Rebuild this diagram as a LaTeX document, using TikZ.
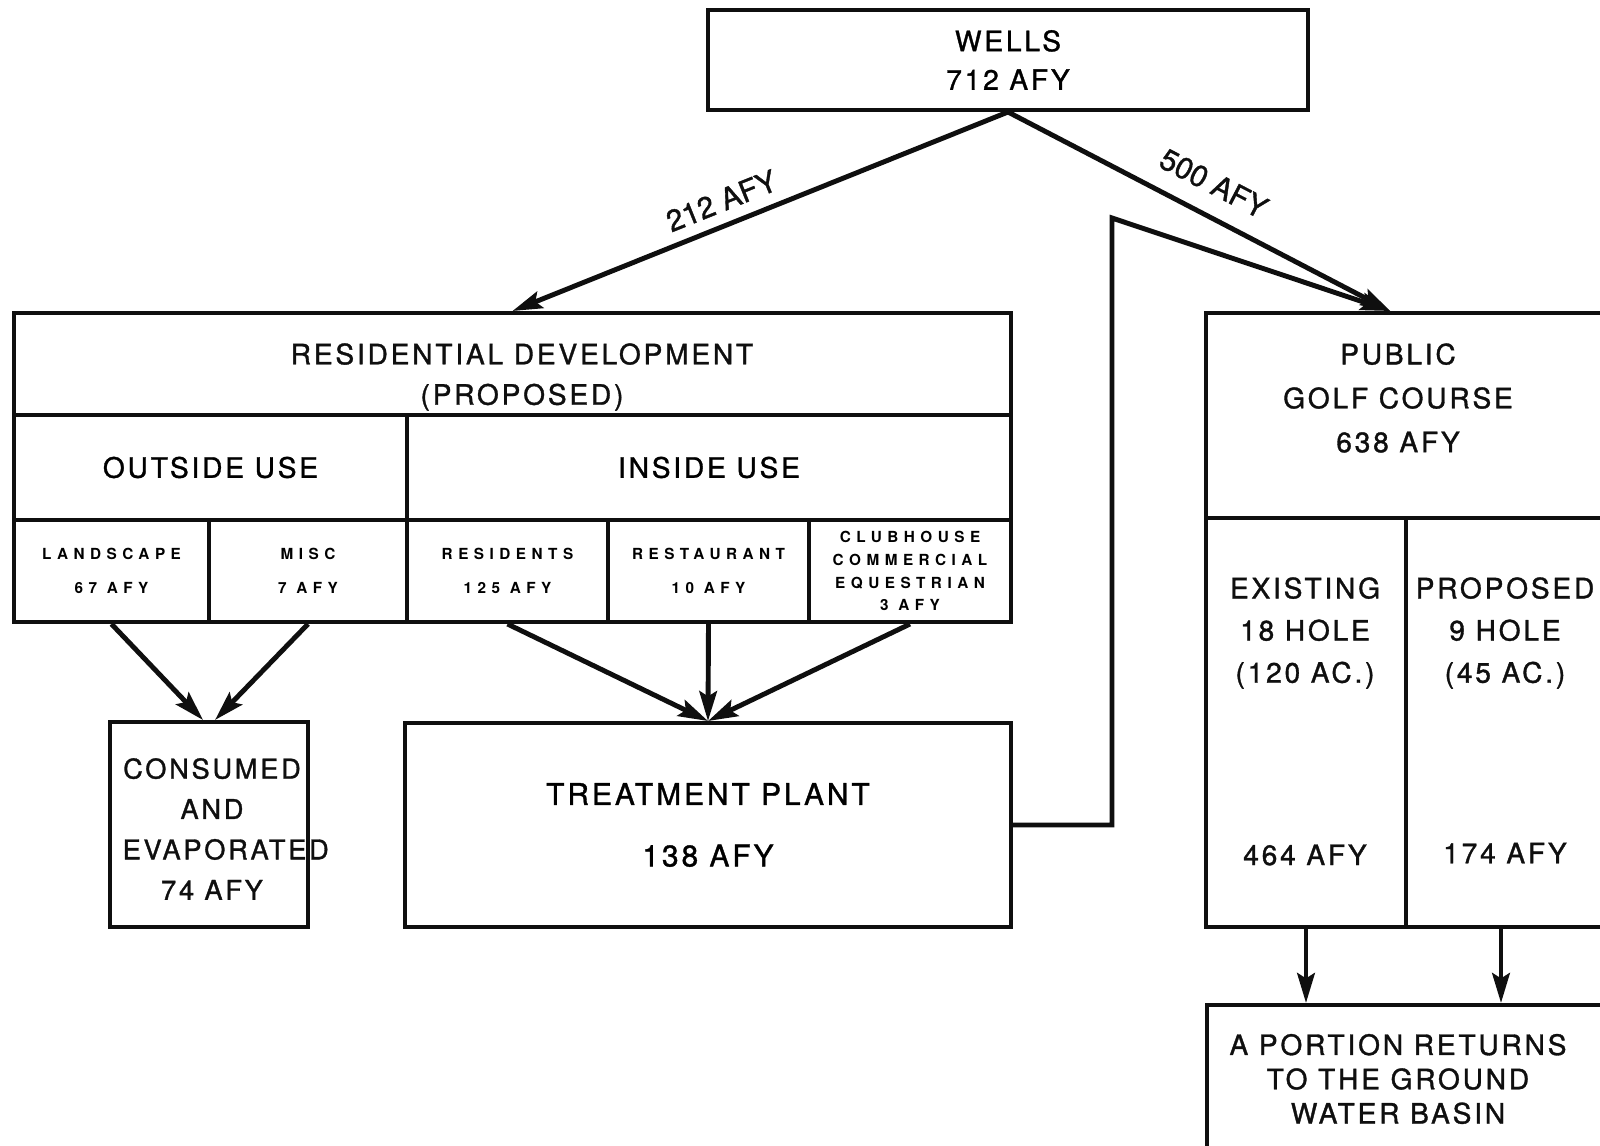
\documentclass[tikz,border=0pt]{standalone}
\usepackage{fontspec}
\setmainfont{TeX Gyre Heros}[LetterSpace=10,FakeBold=1.2]
\newfontfamily\widelettering{TeX Gyre Heros}[LetterSpace=36]
\newfontfamily\flowlettering{TeX Gyre Heros}[FakeBold=1.2]
\usepackage{tikz}
\usetikzlibrary{arrows.meta,calc}
\definecolor{inkblack}{RGB}{15,15,15}

\tikzset{
  box/.style={draw=inkblack, line width=2.3pt, inner sep=0pt, align=center,
    font=\fontsize{16}{23}\selectfont},
  cell/.style={box, minimum height=2.04cm,
    font=\widelettering\bfseries\fontsize{8.7}{19}\selectfont},
  lbl/.style={text=inkblack, align=center, font=\fontsize{16}{24}\selectfont},
  flowlbl/.style={text=inkblack, font=\flowlettering\fontsize{17}{20}\selectfont},
  flow/.style={draw=inkblack, line width=2.8pt,
    -{Stealth[length=17pt,width=10pt,inset=3pt]}}
}

\begin{document}
\begin{tikzpicture}[x=0.02cm, y=-0.02cm]
    \useasboundingbox (0,0) rectangle (1600,1146);
    \clip (0,0) rectangle (1600,1146);
    % source
    \node[box, minimum width=12cm, minimum height=2cm, font=\fontsize{16}{22}\selectfont] (wells) at (1008,60) {WELLS\\712 AFY};
    % residential development
    \node[box, minimum width=19.94cm, minimum height=2.04cm] (reshead) at (512.5,364) {};
    \node[lbl, font=\fontsize{16}{23}\selectfont] (reshtxt) at (522,377) {RESIDENTIAL DEVELOPMENT\\(PROPOSED)};
    \node[box, minimum width=7.86cm, minimum height=2.1cm] (outside) at (210.5,467.5) {OUTSIDE USE};
    \node[box, minimum width=12.08cm, minimum height=2.1cm] (inside) at (709,467.5) {INSIDE USE};
    \node[cell, minimum width=3.9cm] (landscape) at (111.5,571) {LANDSCAPE\\67 AFY};
    \node[cell, minimum width=3.96cm] (misc) at (308,571) {MISC\\7 AFY};
    \node[cell, minimum width=4.02cm] (residents) at (507.5,571) {RESIDENTS\\125 AFY};
    \node[cell, minimum width=4.02cm] (restaurant) at (708.5,571) {RESTAURANT\\10 AFY};
    \node[cell, minimum width=4.04cm, font=\widelettering\bfseries\fontsize{8.7}{13}\selectfont] (clubhouse) at (910,571) {CLUBHOUSE\\COMMERCIAL\\EQUESTRIAN\\3 AFY};
    % outflows
    \node[box, minimum width=3.96cm, minimum height=4.1cm] (consumed) at (209,824.5) {};
    \node[lbl, font=\fontsize{15.5}{23}\selectfont] (consumedtxt) at (212,829) {CONSUMED\\AND\\\hspace*{0.55cm}EVAPORATED\\74 AFY};
    \node[box, minimum width=12.12cm, minimum height=4.08cm, font=\fontsize{17}{35}\selectfont] (treatment) at (708,825) {TREATMENT PLANT\\138 AFY};
    % golf course
    \node[box, minimum width=8.2cm, minimum height=4.1cm] (golfhead) at (1411,415.5) {};
    \node[lbl, font=\fontsize{16}{25}\selectfont] (golftxt) at (1398,398) {PUBLIC\\GOLF COURSE\\638 AFY};
    \node[box, minimum width=4cm, minimum height=8.18cm] (existing) at (1306,722.5) {};
    \node[box, minimum width=4.2cm, minimum height=8.18cm] (proposed) at (1511,722.5) {};
    \node[lbl] (existingtxt) at (1305,633) {EXISTING\\18 HOLE\\(120 AC.)};
    \node[lbl] (existingafy) at (1305,855) {464 AFY};
    \node[lbl] (proposedtxt) at (1505,633) {PROPOSED\\9 HOLE\\(45 AC.)};
    \node[lbl] (proposedafy) at (1505,853) {174 AFY};
    \node[box, minimum width=8.06cm, minimum height=2.9cm] (basin) at (1408,1077.5) {};
    \node[lbl, font=\fontsize{16}{19.5}\selectfont] (basintxt) at (1398,1079) {A PORTION RETURNS\\TO THE GROUND\\WATER BASIN};
    % supply lines
    \coordinate (golfin) at ($(golfhead.north west)!0.45!(golfhead.north east)$);
    \coordinate (bend) at (1112,218);
    \draw[flow] (wells.south) -- node[flowlbl, sloped, above=3pt, pos=0.56] (leftflow) {212 AFY} (reshead.north);
    \draw[flow] (wells.south) -- node[flowlbl, sloped, above=7pt, pos=0.5] (rightflow) {500 AFY} (golfin);
    \draw[flow] (treatment.east) -| (bend) -- (golfin);
    % use to disposal
    \draw[flow] (landscape.south) -- ([xshift=-0.12cm]consumed.north);
    \draw[flow] (misc.south) -- ([xshift=0.12cm]consumed.north);
    \foreach \src in {residents,restaurant,clubhouse}
      \draw[flow] (\src.south) -- (treatment.north);
    \draw[flow] (existing.south) -- (existing.south |- basin.north);
    \draw[flow] ([xshift=-0.2cm]proposed.south) -- ([xshift=-0.2cm]proposed.south |- basin.north);
\end{tikzpicture}
\end{document}
